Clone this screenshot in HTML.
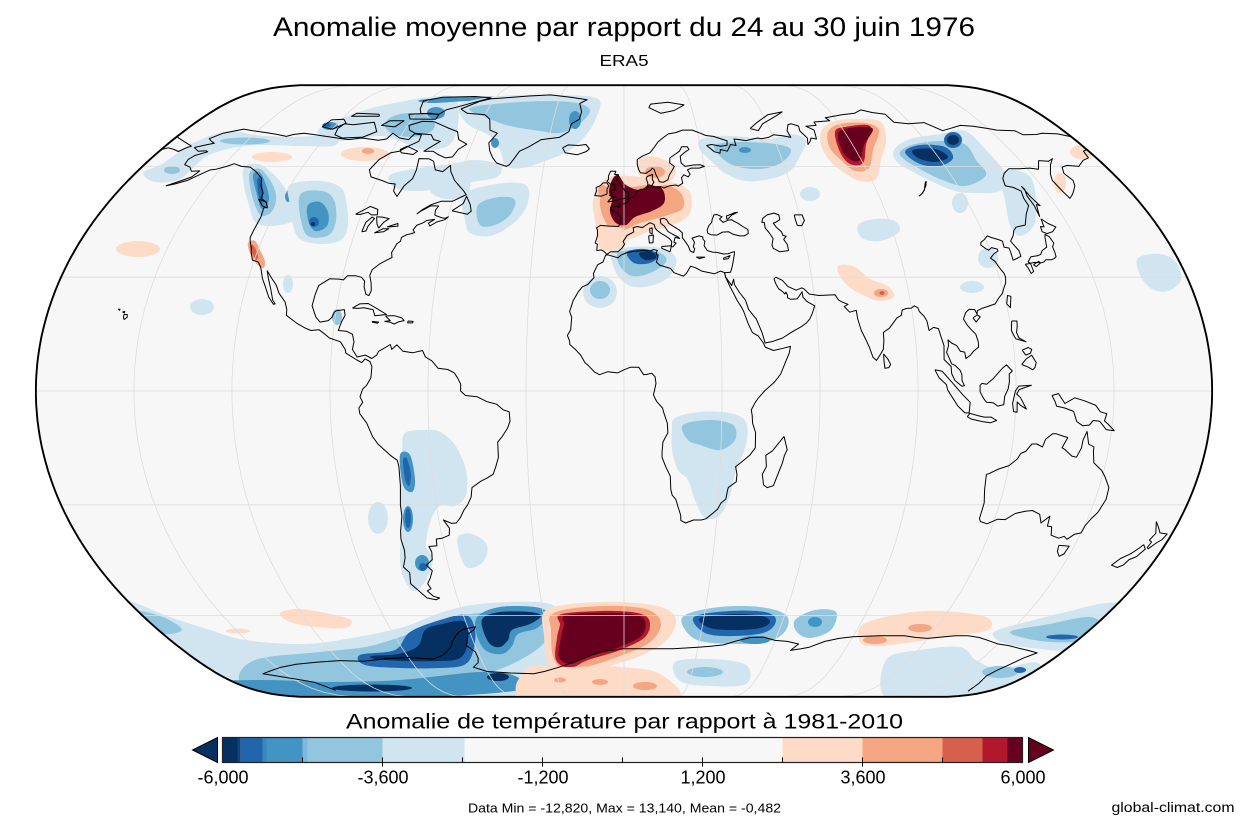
<!DOCTYPE html>
<html><head><meta charset="utf-8"><style>
html,body{margin:0;padding:0;background:#fff;}
svg{display:block;}
text{font-family:"Liberation Sans",Arial,sans-serif;fill:#000;}
</style></head><body>
<svg id="s" width="1248" height="832" viewBox="0 0 1248 832" xmlns="http://www.w3.org/2000/svg">
<defs><clipPath id="cp"><path id="cpp"/></clipPath></defs>
<rect width="1248" height="832" fill="#fff"/>
<path id="bg" fill="#f7f7f7"/>
<g id="data" clip-path="url(#cp)"></g>
<g id="grid" clip-path="url(#cp)" fill="none" stroke="#dddddd" stroke-width="0.8"></g>
<g id="coast" clip-path="url(#cp)" fill="none" stroke="#000" stroke-width="1" stroke-linejoin="round"></g>
<path id="outline" fill="none" stroke="#000" stroke-width="1.9"/>

<text x="624" y="36" font-size="27" text-anchor="middle" textLength="702" lengthAdjust="spacingAndGlyphs">Anomalie moyenne par rapport du 24 au 30 juin 1976</text>
<text x="624" y="66" font-size="16" text-anchor="middle" textLength="49" lengthAdjust="spacingAndGlyphs">ERA5</text>
<text x="624.5" y="728.5" font-size="21" text-anchor="middle" textLength="557" lengthAdjust="spacingAndGlyphs">Anomalie de température par rapport à 1981-2010</text>

<g id="cbar">
<rect x="222.5" y="737.5" width="15" height="25" fill="#053061"/>
<rect x="237.5" y="737.5" width="3.3" height="25" fill="#10437c"/>
<rect x="240.8" y="737.5" width="21.7" height="25" fill="#2166ac"/>
<rect x="262.5" y="737.5" width="4" height="25" fill="#3a87bd"/>
<rect x="266.5" y="737.5" width="36" height="25" fill="#4393c3"/>
<rect x="302.5" y="737.5" width="5" height="25" fill="#7fb8d9"/>
<rect x="307.5" y="737.5" width="75" height="25" fill="#92c5de"/>
<rect x="382.5" y="737.5" width="82" height="25" fill="#d1e5f0"/>
<rect x="464.5" y="737.5" width="318" height="25" fill="#f7f7f7"/>
<rect x="782.5" y="737.5" width="80" height="25" fill="#fddbc7"/>
<rect x="862.5" y="737.5" width="80" height="25" fill="#f4a582"/>
<rect x="942.5" y="737.5" width="40" height="25" fill="#d6604d"/>
<rect x="982.5" y="737.5" width="25" height="25" fill="#b2182b"/>
<rect x="1007.5" y="737.5" width="15" height="25" fill="#67001f"/>
<rect x="222.5" y="737.5" width="800" height="25" fill="none" stroke="#222" stroke-width="1.2"/>
<polygon points="217.5,737.5 217.5,762.5 192.5,750" fill="#053061" stroke="#000" stroke-width="1"/>
<polygon points="1028.5,737.5 1028.5,762.5 1053.5,750" fill="#67001f" stroke="#000" stroke-width="1"/>
<g stroke="#000" stroke-width="1">
<line x1="302.5" y1="757.5" x2="302.5" y2="762.5"/>
<line x1="382.5" y1="757.5" x2="382.5" y2="766.5"/>
<line x1="462.5" y1="757.5" x2="462.5" y2="762.5"/>
<line x1="542.5" y1="757.5" x2="542.5" y2="766.5"/>
<line x1="622.5" y1="757.5" x2="622.5" y2="762.5"/>
<line x1="702.5" y1="757.5" x2="702.5" y2="766.5"/>
<line x1="782.5" y1="757.5" x2="782.5" y2="762.5"/>
<line x1="862.5" y1="757.5" x2="862.5" y2="766.5"/>
<line x1="942.5" y1="757.5" x2="942.5" y2="762.5"/>
</g>
<g font-size="18" text-anchor="middle">
<text x="223" y="783.5">-6,000</text>
<text x="383" y="783.5">-3,600</text>
<text x="543" y="783.5">-1,200</text>
<text x="703" y="783.5">1,200</text>
<text x="863" y="783.5">3,600</text>
<text x="1023" y="783.5">6,000</text>
</g>
</g>
<text x="624.5" y="812.5" font-size="12.5" text-anchor="middle" textLength="313" lengthAdjust="spacingAndGlyphs">Data Min = -12,820, Max = 13,140, Mean = -0,482</text>
<text x="1173" y="812" font-size="13.5" text-anchor="middle" textLength="123" lengthAdjust="spacingAndGlyphs">global-climat.com</text>
</svg>
<script>
(function(){
var NS='http://www.w3.org/2000/svg';
var CX=624,CY=391,S=215;
function pr(lon,lat){var p=lat*Math.PI/180,l=lon*Math.PI/180;var p2=p*p,p4=p2*p2,p6=p4*p2,p8=p4*p4,p10=p8*p2,p12=p6*p6;
var x=l*(0.8707-0.131979*p2-0.013791*p4+0.003971*p10-0.001529*p12);
var y=p*(1.007226+0.015085*p2-0.044475*p6+0.028874*p8-0.005916*p10);
return [CX+S*x,CY-S*y];}
function f(v){return v.toFixed(1);}
function line(arr){var d='';for(var i=0;i<arr.length;i+=2){var p=pr(arr[i],arr[i+1]);d+=(i?'L':'M')+f(p[0])+' '+f(p[1]);}return d;}
function el(tag,attrs,parent){var e=document.createElementNS(NS,tag);for(var k in attrs)e.setAttribute(k,attrs[k]);parent.appendChild(e);return e;}
// outline
var pts=[];var la;
pts.push(pr(-180,90));
for(la=90;la>=-90;la-=1)pts.push(pr(180,la));
for(la=-90;la<=90;la+=1)pts.push(pr(-180,la));
var od='M'+pts.map(function(p){return f(p[0])+' '+f(p[1]);}).join('L')+'Z';
document.getElementById('cpp').setAttribute('d',od);
document.getElementById('bg').setAttribute('d',od);
document.getElementById('outline').setAttribute('d',od);
// grid
var g=document.getElementById('grid');
[-60,-30,0,30,60].forEach(function(lt){el('path',{d:line([-180,lt,180,lt])},g);});
for(var lo=-150;lo<=150;lo+=30){var a=[];for(la=-90;la<=90;la+=2){a.push(lo,la);}el('path',{d:line(a)},g);}
// data
var D=document.getElementById('data');
function sm(a){var n=a.length/2;function P(i){i=((i%n)+n)%n;return [a[i*2],a[i*2+1]];}
var d='M'+P(0).join(' ');for(var i=0;i<n;i++){var p0=P(i-1),p1=P(i),p2=P(i+1),p3=P(i+2);
var c1=[p1[0]+(p2[0]-p0[0])/6,p1[1]+(p2[1]-p0[1])/6],c2=[p2[0]-(p3[0]-p1[0])/6,p2[1]-(p3[1]-p1[1])/6];
d+='C'+f(c1[0])+' '+f(c1[1])+' '+f(c2[0])+' '+f(c2[1])+' '+p2[0]+' '+p2[1];}return d+'Z';}
function P(c,a){el('path',{d:sm(a),fill:c},D);}
function E(c,x,y,rx,ry){el('ellipse',{cx:x,cy:y,rx:rx,ry:ry,fill:c},D);}
var b1='#d1e5f0',b2='#92c5de',b3='#4393c3',b4='#2166ac',b5='#053061',r1='#fddbc7',r2='#f4a582',r3='#d6604d',r4='#b2182b',r5='#67001f';
// North America
P(b1,[143,173,160,165,175,155,185,147,200,140,215,134,235,131,255,135,290,137,325,136,338,140,332,146,300,146,260,145,232,148,207,156,193,168,178,180,155,182]);
E(b2,245,141,25,3.5);E(b2,172,170,8,4);
E(r1,272,157,20,5);E(r1,365,154,24,7);E(r2,368,151,6,3);
P(b1,[318,130,345,117,372,108,400,102,430,97,455,98,458,125,448,146,420,149,400,141,380,136,355,139,330,141]);
E(b2,410,125,25,12);E(b3,330,126,8,4);E(b4,327,125,4,2);E(b3,436,113,9,6);
P(b3,[420,100,460,97,525,97,522,100,470,101,430,103]);
P(b1,[460,104,500,96,560,95,598,99,596,118,586,135,570,150,548,160,522,168,506,166,500,150,490,136,470,126,460,114]);
P(b2,[470,108,520,102,570,102,590,110,578,125,560,133,540,131,510,126,490,119]);
E(b3,575,120,6,9);E(b3,495,143,4,5);
P(b1,[390,175,420,168,450,164,475,160,500,165,497,177,472,182,445,187,420,191,395,188]);
P(b1,[430,170,460,168,470,180,466,195,446,199,430,191]);
P(b1,[244,167,258,164,271,172,283,185,291,200,300,210,291,222,270,226,255,222,249,205,244,186]);
P(b2,[250,172,260,169,270,180,276,195,273,210,262,216,255,205,250,186]);
P(b3,[253,175,260,173,266,185,269,200,262,209,257,195]);
P(b4,[257,180,261,179,263,192,262,204,259,198]);
E(b3,288,196,3,6);
P(b1,[290,185,320,181,340,187,346,200,348,225,341,240,320,244,300,239,293,225,290,205]);
P(b2,[300,195,322,191,334,200,336,220,329,235,310,237,302,225]);
P(b3,[308,205,320,202,328,212,327,226,315,231,308,220]);
E(b4,314,222,5,5);E(b5,313,224,2,2);
P(r2,[248,243,255,241,261,252,265,262,263,268,256,263,250,253]);
P(r3,[250,246,254,246,258,256,256,260,252,253]);
E(r1,138,249,22,8);E(b1,202,307,12,8);E(b1,288,284,5,9);E(b2,337,317,5,8);
P(b1,[463,195,490,185,520,183,529,191,525,210,510,226,490,236,470,233,465,220]);
P(b2,[478,205,500,197,515,200,510,215,495,225,480,225]);
// Europe
P(r1,[593,200,600,185,612,176,640,177,665,181,681,185,691,195,689,215,670,226,650,231,630,239,610,241,598,231,594,215]);
P(r2,[600,200,612,183,630,187,660,184,680,192,683,208,665,216,640,223,620,231,606,223]);
P(r5,[612,180,618,175,626,185,640,190,652,183,663,190,664,203,652,211,635,217,626,225,616,223,610,212,612,200,609,192]);
E(r2,603,191,5,6);
P(r1,[637,163,650,156,668,162,676,172,668,183,655,186,642,179]);E(r2,655,172,10,6);
P(r1,[597,228,610,226,625,230,625,245,612,251,600,248]);
P(b1,[612,252,630,247,660,248,676,258,670,276,650,286,630,286,618,276,612,262]);
P(b2,[618,253,635,250,660,253,666,262,650,273,632,276,620,266]);
P(b4,[627,252,645,249,659,255,650,263,634,263]);
P(b5,[639,253,652,252,656,258,645,260]);
E(b1,600,292,17,16);E(b2,600,290,10,9);
P(b1,[700,140,720,136,745,137,770,139,790,134,806,140,800,156,790,171,770,179,745,181,725,173,710,160,700,150]);
P(b2,[715,145,740,142,775,144,791,150,781,163,760,169,735,166,720,156]);
E(b3,745,150,6,3);E(b1,810,194,10,7);
// Siberia
P(r1,[822,130,835,121,860,119,881,122,886,140,881,160,876,179,860,181,845,173,830,161,821,145]);
P(r2,[828,132,840,124,865,123,879,130,873,150,869,168,855,171,842,161,830,148]);
P(r4,[835,132,845,127,870,126,866,145,863,163,850,164,840,152]);
P(r5,[840,131,872,128,864,145,860,160,851,160,842,150]);
P(b1,[894,150,910,139,940,134,965,131,986,150,1006,175,1000,191,975,193,955,191,935,183,915,173,897,162]);
P(b2,[900,152,915,144,945,141,966,145,976,160,986,175,965,186,940,179,920,169,905,160]);
P(b4,[905,152,920,145,945,147,953,158,940,166,920,164]);
P(b5,[913,150,935,149,948,157,935,162,918,158]);
E(b4,953,140,9,8);E(b5,953,140,6,5);
P(b1,[1000,175,1015,170,1031,178,1036,200,1034,225,1020,236,1010,225,1005,200]);
E(b1,960,203,8,10);
E(r1,1060,183,6,10);E(r1,1082,152,12,7);
P(b1,[1138,258,1160,254,1176,262,1181,280,1168,291,1152,289,1140,275]);
P(b1,[858,225,875,219,895,221,899,232,880,241,862,238]);
P(r1,[840,265,855,267,870,279,888,286,894,297,880,301,865,296,848,286,838,272]);
E(r2,881,293,7,4);E(r3,882,293,2.5,2);
E(b1,972,287,12,6);E(b1,988,258,10,10);
// South America / Africa
P(b1,[405,433,425,430,440,432,455,445,466,470,466,495,455,506,440,506,431,520,426,545,433,560,426,580,415,591,405,581,400,560,402,520,400,480,402,450]);
P(b3,[400,455,410,455,415,480,412,492,403,485]);
P(b4,[403,460,407,459,411,475,409,486,405,479]);
E(b3,408,519,5,13);E(b4,408,518,3,10);
E(b3,422,563,7,8);E(b4,423,567,4,4);
E(b1,378,518,10,16);
P(b1,[458,537,472,534,487,545,483,562,468,568,460,555]);
P(b1,[675,418,700,412,730,413,746,422,746,445,736,470,730,495,720,515,705,518,695,500,688,480,678,470,672,450,672,430]);
P(b2,[683,425,710,420,733,425,735,440,720,450,700,445,688,440]);
P(r1,[280,613,300,609,330,614,351,620,345,628,315,627,290,622]);E(r1,238,631,12,2.5);E(r1,245,666,8,2);
// Antarctic zone
P(b1,[120,600,170,617,210,630,245,640,300,644,340,640,400,628,440,613,480,604,546,603,560,620,556,660,540,680,500,700,400,705,300,705,250,700,200,690,150,665,110,630]);
P(b2,[140,612,165,618,182,630,160,633]);
P(b2,[255,660,320,652,370,646,420,630,450,619,470,614,520,611,546,615,546,640,520,660,480,676,420,692,340,695,280,693,240,682]);
P(b4,[410,632,440,620,466,615,475,630,473,652,464,665,440,668,400,668,365,665,360,655,395,650]);
P(b5,[425,630,442,624,463,621,468,632,466,650,458,659,440,661,405,661,375,659,372,656,398,654,418,646]);
P(b3,[478,616,500,607,535,607,548,614,537,628,518,634,512,646,502,654,485,650,476,632]);
P(b5,[483,618,500,612,530,612,541,616,530,624,512,630,508,640,500,647,490,644,483,630]);
P(b3,[180,684,260,680,330,682,400,680,480,672,515,676,520,690,400,698,250,698]);
E(b5,498,677,11,4);E(b5,372,688,40,3.5);
P(r1,[544,612,570,604,620,602,661,607,676,620,666,641,640,656,610,666,580,676,560,676,547,660,544,635]);
P(r2,[551,615,575,608,620,606,651,611,661,625,649,643,620,656,590,666,565,671,553,656,551,630]);
P(r4,[562,614,617,611,647,617,646,636,620,650,588,660,570,668,556,660,557,638,560,625]);
P(r5,[567,615,617,613,643,618,642,635,617,648,587,657,570,664,559,657,561,638,564,625]);
P(r1,[528,668,570,667,620,667,660,674,672,700,528,700]);E(r2,645,686,12,4);E(r2,600,682,8,3);E(r2,560,680,6,2.5);
P(b2,[685,615,720,607,760,607,786,615,786,630,770,641,740,644,700,641,684,628]);
P(b4,[694,617,730,611,765,612,776,620,766,632,735,636,705,633]);
P(b5,[700,618,735,614,762,616,770,622,760,628,735,630,710,628]);
E(b3,755,640,15,4);
P(b2,[795,620,815,610,836,612,831,630,810,638,797,632]);E(b3,815,622,7,5);
P(b1,[675,662,710,659,746,665,746,684,710,686,680,681]);E(b2,705,672,18,5);
P(r1,[862,625,900,614,940,611,986,617,988,630,950,636,920,641,880,646,861,643]);
E(r2,875,640,12,4);E(r2,920,628,12,4);
P(b1,[994,632,1030,621,1070,611,1106,603,1125,608,1112,641,1080,651,1040,649,1004,643]);
P(b2,[1010,632,1050,624,1090,617,1101,628,1080,641,1040,641]);
E(b4,1062,637,16,2.5);
P(b1,[886,660,920,650,960,647,976,660,1000,669,1038,663,1045,692,960,700,888,700]);
E(b2,1000,672,18,6);E(b4,1020,670,6,3);
// coastlines
var C=document.getElementById('coast');
var COAST=[
[-168,65.6,-164,66.5,-162,66.9,-164,67.5,-166,68.3,-163,70,-156.5,71.3,-152,70.8,-145,70.1,-141,69.7,-136,69,-134,69.6,-130,70,-125,69.5,-120,69,-115,68.5,-110,68,-105,68.5,-98,67.8,-95,68.2,-94,70,-90,68.5,-86,68,-85,69.8,-82,69.5,-81.5,67.5,-84,66.3,-87,64.5,-90,64,-93,62,-94.5,59,-92.5,57,-88,56,-85,55.2,-82.5,55,-82,53,-80,51.5,-79,54.5,-77,56.5,-77,59,-78,62.3,-74,62.2,-72,61.5,-70,59,-67,58.5,-65,60.3,-64,58.5,-61.5,56,-60,55,-57,53,-55.8,52,-57,51.5,-60,50.2,-64,50.2,-67,49.3,-69.5,48,-71,46.8,-70,47.5,-67,49,-64.3,48.9,-65,47.8,-64.8,46.5,-64,46.2,-62,45.7,-61,45.6,-60,46,-61,45.2,-63.5,44.6,-65.5,43.5,-66.2,44.3,-64.5,45.3,-67,45,-68,44.4,-70,43.7,-70.8,42.5,-70,41.8,-71,41.5,-72.5,41.2,-74,40.5,-74,39.5,-75,38.8,-75.5,37.5,-76,36.5,-75.5,35.2,-77,34.5,-79,33.5,-81,32,-81.4,30.5,-80.5,28.5,-80,26.5,-80.5,25.2,-81.5,25.5,-82.5,27.5,-82.7,29,-84,30,-86,30.4,-88.5,30.4,-89.5,29.3,-91,29.5,-94,29.6,-97,27.8,-97.5,25.5,-97.8,22.5,-96,19.5,-94.5,18.2,-92,18.6,-91,19.5,-90.5,20.8,-90,21.2,-87.5,21.5,-87,20,-87.8,18.3,-88.5,16,-86,15.8,-84,15,-83.3,13,-83.6,11,-82,9,-79.5,9.5,-77.5,8.6,-76,9.5,-75.5,10.5,-74.5,11,-72,12.3,-71.5,11,-70,12.2,-68,10.5,-65,10.1,-62,10.7,-61,9,-59,8,-57,6,-54,5.7,-52,4.8,-51,3.5,-50,1.8,-50,0,-48.5,-1.2,-45,-1.5,-42,-2.8,-39,-3.5,-37,-5,-35.2,-5.5,-35,-8,-35.8,-9.8,-37.5,-12,-39,-13.5,-39,-17.5,-40,-20,-41,-22,-43,-23,-45,-23.8,-48,-25.5,-48.6,-28,-50,-30,-51.5,-31.5,-53,-33.5,-54.5,-34.8,-56,-34.9,-58.5,-34,-57,-36.2,-57.5,-38,-60,-38.8,-62,-39,-62.3,-40.8,-65,-41,-64.5,-42.5,-65,-44.5,-67.5,-46,-66,-47.5,-67.5,-49.5,-69,-51,-68.4,-52.4,-70,-53,-68.5,-54.5,-66.5,-55,-68,-55.5,-71,-55,-73,-53,-75,-51,-74,-48,-75.5,-46.5,-74,-44,-73.5,-42,-73.7,-39,-73.2,-37,-71.7,-33,-71.5,-30,-70.5,-25,-70.2,-20,-70.5,-18.3,-72.5,-17,-76,-14,-77.5,-12,-79,-8.5,-81,-6,-81.2,-4.5,-80,-3,-80.8,-1.5,-80,0.5,-78.8,1.5,-77.5,3.5,-77.3,6.5,-78,7.8,-79.5,8.5,-80.5,7.5,-82,8.2,-85.5,10,-85.8,11,-87.5,13,-91,14,-92.5,15,-94.5,16.2,-97,16,-99,16.7,-101.5,17.8,-105.3,20,-105.5,21.5,-106.5,23.5,-109,25.8,-110.5,27.9,-112.5,29.7,-114.7,31.7,-113.5,29.5,-112,27,-110.5,24,-109.5,23,-110,22.9,-112,24.8,-114.2,28,-115.5,29.7,-116.6,31.7,-117.2,32.7,-118.5,34,-120.6,34.5,-121.9,36.5,-122.5,37.8,-123.8,39.5,-124.3,40.5,-124.2,42.5,-124,46,-124.7,48.4,-123.5,48.5,-125,50,-127.5,51,-128,52.5,-130.5,54.5,-132,56.5,-136,58.5,-139.5,59.8,-143,60,-146.5,60.8,-148.5,60,-151.5,59.2,-153.5,59,-156,57.5,-158.5,56,-162,55,-164.5,54.5,-161,55.8,-158,57,-157,58.7,-160,58.6,-162,59.8,-164.8,60.5,-165.5,62,-164.5,63.2,-161,64.3,-162,64.6,-165,64.5,-168,65.6],
[32.5,30,32.3,31.2,34.2,31.3,34.9,32.8,35.5,34.5,36,36,36.2,36.7,35.5,36.6,34,36.2,32.5,36.1,30.5,36.5,29,36.6,27.3,37,26.4,38.3,26.8,39.5,26.2,40,26.2,40.6,25,40.9,23.8,40.6,22.6,40.3,23.3,39.2,22.8,38,23.2,37.5,22.8,36.5,21.7,36.9,21.1,38.3,20.2,39.5,19.4,40.4,19.5,41.7,18.5,42.5,16.5,43.5,15.2,44.2,14.5,45.2,13.7,45.6,12.3,45.4,12.5,44.2,13.6,43.5,14.7,42.1,16.1,41.4,18,40.6,18.5,40.2,17,40.5,16.5,39.2,17.2,39,16.1,38,15.6,38,15.8,39.5,15,40.2,14,40.8,12.5,41.5,11,42.4,10.5,43,10.2,43.9,8.8,44.4,7.5,43.8,6.2,43.1,4.5,43.4,3.1,43.1,3.2,41.9,1,41,0.2,40,-0.3,39.4,0.2,38.7,-0.7,37.6,-2,36.7,-4.4,36.7,-5.6,36,-6.5,36.8,-7.5,37.2,-8.9,37,-8.8,38.7,-9.5,39,-8.8,41,-8.9,42.5,-9.3,43,-8,43.7,-5,43.5,-1.8,43.4,-1.3,44.5,-1.2,46,-2.2,47,-4.5,47.9,-4.7,48.6,-3,48.8,-1.6,48.6,-1.9,49.7,-1.2,49.4,0.2,49.5,1.5,50.1,1.6,50.9,3,51.2,4,51.9,4.7,53,6,53.5,8.5,53.6,8.6,55.3,8.1,56.5,8.5,57.1,10.5,57.7,10.3,56.3,10.8,55.5,10,54.6,11,54,13,54.3,14.3,53.9,16.5,54.5,18.6,54.7,19.5,54.4,21.2,55.2,21,56.8,22,57.6,23.5,57,24.3,57.8,23.5,59,25,59.5,28,59.5,30,60,28.5,60.5,26,60.4,22.8,60,21.5,61,21.5,63,23.5,64.2,25.3,65,24.8,65.8,22.5,65.8,21.5,64.5,19.5,63.5,17.5,62.5,17.2,61,18.8,60,18,59,16.6,57.5,16,56.2,14.3,55.5,12.8,55.6,12.5,56.3,11.7,57.7,11.2,59.1,10.5,59.5,10,59,8,58,6,58.2,5.5,59,5,60.5,5,62,7,63,10,64,12,65.8,13.5,67.3,15.5,68.5,18,69.8,21,70.2,24,71,28,71,31,70,33,69.3,36,69,41,67.6,40.5,66.3,38,66,34.5,66.5,32.5,66.2,35,64.3,37,63.9,37.5,65,40,64.5,42,66.5,44,66.2,44,68.2,46,68,48.5,67.7,53.5,68.5,55,68.3,58,68.7,60.5,69.5,64,69.2,67,68.7,66.8,70.8,68.5,72.8,70,73,72.5,72.3,72,70.7,73.5,68.5,72.5,66.5,74,67.5,75,68.5,77,68.2,78,71,75.5,72.2,80,72.5,80,73.6,87,74,86,75,94,76,100,76.5,104.2,77.7,108,76.8,113,76.2,113.5,73.5,119,73,126,73.4,128.5,72,130.5,70.8,135,71.6,140,72.5,145,72.2,150,71.5,153,71,160,70.8,161.5,69.5,167,69.6,170,70,176,69.8,180,68.9,180,65,178,64.5,177,62.5,174,61.8,170,60,166,60.3,163.5,59.8,162,58,163,56,162,54.5,160,53,158.5,52,156.7,51,156,53,155.5,56,156.8,57.8,160,60.5,163,62.3,160.5,61.5,157,61.7,154,59.2,151,59.5,147,59.3,143,59.3,140,58,138,56.5,137,54.5,139.5,54,141.3,53,140.5,51,140.5,49,138,46.8,135.5,43.8,132,43.2,130.7,42.3,129.7,41,128,39.5,129.4,37,129.3,35.5,127,34.7,126.3,34.5,126.5,36.5,126.5,37.7,125,37.9,125.3,39.5,124.2,39.9,122,40.5,121,40.9,119.5,39.9,118,39.2,117.6,38.5,118.8,37.5,119.5,37.1,120.8,37.8,122.5,37.4,122.5,36.9,120.7,36.1,119.2,35,120.3,34.2,121,32.5,121.9,31,122,30,121.5,28.5,120.5,27.2,119.5,25.7,118,24.5,116.5,23,114,22.3,112,21.8,110.5,21.2,110.2,20.3,109.7,21.5,108,21.6,106.7,20.7,105.7,19,106.5,17.5,107.5,16.3,108.8,15,109.3,13,109.2,11.6,107.5,10.5,106.5,9.5,105,8.6,104.8,10.3,103.5,10.5,102.5,12,101,12.7,100,13.5,100,12,99.2,10.2,100,8.5,100.5,7.2,101.5,6.8,103,5.5,103.5,4.3,103.5,2.8,104.2,1.4,103.4,1.3,101.3,2.8,100.4,4.6,100.3,6.5,98.3,8.3,98.6,12,97.8,15,97.5,16.5,96,16.8,94.5,16,94.2,18.5,93.5,19.8,92.3,21,92,22,91,22.5,90,21.9,88.5,21.8,87,21.4,86.5,20,85,19.3,82.3,16.6,80.3,15.5,80.2,13.3,79.8,11,79.3,10.3,78.2,8.9,77.5,8.1,76.5,8.9,75.6,11.5,74.7,13.5,73.5,16,72.8,19,72.6,21.3,70.5,20.8,69,22.3,70.3,22.9,68.5,23.5,67.5,24,66.6,25.4,64,25.3,61.5,25.2,58.5,25.6,57,27,56.3,27.2,54.5,26.6,52,27.6,50.5,29.2,48.5,30,47.9,29.5,48.3,28.3,49,27,50.2,26.2,50.8,25.6,51.2,26.1,51.6,25.3,51.5,24.6,52.5,24.2,54.5,24.3,56,25.8,56.3,26.2,56.4,24.8,57.5,23.6,59.8,22.5,58.8,20.5,57.8,19,56.7,18,55,17,52.2,15.7,49,14,45.5,13,43.5,12.7,42.7,15.5,41.2,19,39,21.5,38.2,24,36.5,26,35.1,28.1,35,29.5,34.3,28,34.2,27.8,32.6,29.9,32.5,30],
[32.5,30,33.5,27.8,34.5,26,35.6,23.9,36.9,22,37.4,21,38.5,18,39.7,15.5,41.5,14.5,43,12.7,43.5,11.6,46,10.7,49,11.3,51.3,11.8,50.8,10,49.5,7.5,48,4.5,46,2.3,43,0,41,-2,40.2,-3,39,-5,39.3,-6.5,39.5,-8.5,40.5,-11,40.6,-15,39,-17,36.5,-18.8,34.8,-20,35.4,-22,35.3,-24,33,-25.4,32.8,-26,32.4,-28.5,31,-29.5,30,-31.2,28.5,-32.3,26.5,-33.7,25,-34,22.5,-34,20,-34.8,18.4,-34.1,18.3,-32.8,17.5,-31,16.5,-28.6,15.3,-27.5,14.8,-26,14.5,-22.5,13,-20,11.8,-17.5,11.8,-16,12,-13.5,13.5,-11,13.3,-8.5,12.3,-6,11.8,-4.5,10,-2.8,9,-1,9.3,0,9.8,2,9.5,3.8,8.5,4.7,7,4.4,6,4.3,4.5,6.3,2,6.3,0,5.6,-2,4.8,-5,5.1,-7.5,4.3,-9,5,-11,6.8,-12,7.5,-13.3,9.5,-15,11,-16.7,12.3,-16.8,13.2,-17.5,14.7,-16.5,16.2,-16.3,19.5,-17,21,-16,23.8,-14.5,26.1,-13.2,27.5,-11.5,28.1,-9.6,29.9,-9.8,31,-8.5,33.3,-6.8,34,-6,35.8,-5.3,35.9,-2,35.1,-1,35.8,1,36.5,3,36.8,6,37,8.5,36.9,9.7,37.3,11,37,10.5,36.5,11,35.2,10.5,34,11.5,33.2,15,32.3,16,31.2,19,30.3,20,31,21.5,32.9,23,32.5,25,31.6,29,30.9,31,31.6,32.3,31.2,32.5,30],
[-141,-85,-143,-81.5,-150,-80,-160,-78.3,-155,-77.3,-148,-76,-140,-75,-130,-74.3,-120,-73.8,-110,-74,-100,-73.2,-90,-72.8,-80,-73.3,-75,-72,-70,-69.5,-68,-67.5,-66,-66,-64,-64.8,-62,-64,-57,-63.3,-58,-64.2,-61,-65.5,-62,-67,-63.5,-69,-61,-71,-61,-73,-62,-74.5,-65,-76,-60,-77.5,-50,-78,-40,-78.3,-35,-77.5,-28,-76,-20,-74,-15,-72.5,-10,-71,0,-70,10,-70,20,-70,30,-69.5,35,-69.2,40,-68.8,45,-67.5,50,-66.5,55,-66.4,60,-67.4,65,-67.7,70,-68.5,68,-70.5,72,-70,75,-69.5,80,-67.7,85,-66.8,90,-66.3,100,-66,110,-66,115,-66.5,120,-66.8,130,-66,135,-66,140,-66.5,145,-67.5,150,-68.5,155,-69,160,-69.8,165,-70.5,170,-71.3,167,-73,165,-75,163,-77,162,-79,165,-82,170,-85.5],
[-180,68.9,-175,67.5,-171,66.4,-169.7,66,-171,65.5,-172.5,64.4,-175,65,-178,65.5,-180,65],
[-72,78,-68,76.5,-60,76,-57,74.5,-55,71,-51.5,70,-53.5,67,-52,64.5,-50,62.5,-48,61,-44,60,-43,60.5,-42,62,-40.5,64.5,-37.5,65.7,-33,68,-26,68.7,-22.5,70.5,-22,73,-19,74.5,-18.5,77,-20,80,-17,81.5,-25,82.5,-35,83.5,-45,83,-55,82.3,-62,81.8,-66,80.8,-72,78],
[-24,65.5,-22,66.4,-18,66.2,-15,66.5,-13.5,65.2,-14.5,64.4,-18,63.4,-21,63.8,-22.7,64,-24,65.5],
[11,78.5,16,76.5,22,77.5,27,79.5,20,80.5,12,79.8,11,78.5],
[52,71.5,56,73.5,62,76,69,77,65,75.5,58,73,55,70.8,52,71.5],
[-80,73.7,-72,71.5,-68,70.5,-66,68,-62,66.6,-64.5,65,-65.5,62.8,-68,62.5,-71.5,63.5,-74,64.5,-77.5,64.5,-73,67.5,-76,68,-78,69.5,-85,70,-88,71,-89.5,72.5,-85,73.8,-80,73.7],
[-118,71.5,-117,73,-113,72.7,-105,73.5,-101,70.5,-105,68.8,-113,68.5,-117,69.5,-118,71.5],
[-125,72,-124,74.3,-119,74.5,-116.5,73.2,-120,71.3,-125,72],
[-80,76.2,-88,76.4,-90,78,-92,81,-85,82.5,-70,82.8,-62,82.2,-68,80.5,-74,78.8,-78,77.8,-80,76.2],
[-80,74.5,-91,74.6,-93,76.2,-84,76.5,-80,76,-80,74.5],
[-95,72,-101,72.5,-99,74,-93,74,-95,72],
[-105,75.5,-117,75.5,-116,76.5,-106,76.2,-105,75.5],
[-86,64,-81,63.5,-80,64.5,-85,66,-87,65,-86,64],
[-59.3,47.6,-56,49.6,-55.5,51.6,-53.5,49.3,-52.6,47.5,-53.7,46.7,-55.5,47,-59.3,47.6],
[-128.3,50.8,-125,50,-123.4,48.4,-125.5,48.9,-128.3,50.8],
[-92,46.7,-89.5,48,-88,48.8,-85,48,-84.5,46.5,-86.5,46.5,-88,47.2,-90.5,46.6,-92,46.7],
[-87.8,42,-87.5,44.5,-86,45.9,-85,45.5,-86.3,43.5,-86.5,42.2,-87.8,42],
[-84.5,46,-82.5,45.9,-80,45.5,-81.5,44.5,-82.5,43,-83.5,44,-84.5,46],
[-83.5,41.7,-81,42.8,-79,42.8,-80.5,42,-83.5,41.7],
[-79.8,43.3,-76.5,44.2,-76.2,43.5,-79,43.3,-79.8,43.3],
[-85,21.9,-83,23,-80.3,23.1,-77.2,21.7,-74.1,20.2,-77.7,19.9,-78.5,21.5,-81.5,22,-83.3,21.8,-85,21.9],
[-74.4,19.8,-72.8,19.9,-71.6,19.9,-69.2,19.3,-68.4,18.6,-70,18.3,-71.4,17.7,-72.8,18.2,-74.4,18.4,-72.7,18.6,-74.4,19.8],
[-67.2,18.5,-65.6,18.4,-65.7,18,-67.2,18,-67.2,18.5],
[-78.3,18.4,-76.3,18.2,-76.6,17.9,-78.2,18.2,-78.3,18.4],
[-156,20.2,-155,20.2,-154.8,19.5,-155.6,18.9,-156,19.5,-156,20.2],
[-156.7,20.9,-156,21,-156,20.6,-156.7,20.9],
[-158.3,21.6,-157.7,21.6,-157.7,21.3,-158.3,21.6],
[-5.7,50,-3.5,50.3,-1,50.8,1.4,51.2,1.7,52.6,0.3,53,0,53.6,-1.2,54.6,-2,55.8,-2.8,56,-2,57.6,-3.5,57.7,-3,58.6,-5,58.6,-5.7,57.2,-5.6,56.3,-6.2,55.8,-5,55,-3.2,54.9,-3.5,54.3,-3,53.4,-4.6,53.2,-4.2,52.3,-5.2,51.8,-3,51.4,-4.5,51.1,-5.7,50],
[-6,52.2,-6.1,53.5,-5.5,54.5,-6.2,55.3,-7.5,55.3,-8.5,54.5,-10,54,-9.8,53,-10.3,51.8,-8,51.6,-6,52.2],
[12.4,38.1,15.6,38.3,15.1,36.7,12.4,37.6,12.4,38.1],
[8.2,40.9,9.8,41.1,9.6,39.1,8.4,39,8.2,40.9],
[8.6,42.9,9.5,43,9.4,41.4,8.7,41.7,8.6,42.9],
[23.5,35.3,26.3,35.3,24.5,34.9,23.5,35.3],
[32.3,35,34.6,35.7,33.9,34.9,32.4,34.7,32.3,35],
[29,41.2,31,41.1,33,41.9,35,42,36.5,41.3,38.5,40.9,40,40.9,41.5,41.5,41.6,42.6,40,43.4,38.5,44.3,37.5,44.7,36.6,45.2,35.5,45.1,33.6,44.5,32.5,45.4,33.5,46,31.8,46.6,30.8,46.5,30,45.3,29.7,44.5,28.6,43.6,27.9,42.5,28,41.6,29,41.2],
[35,45.3,35.5,45.5,37,46.5,39,47.2,38,47.1,36.5,46.6,35,46.2,35,45.3],
[49,46.5,51.5,47,53,46.5,53,45.2,51.3,44.5,50.5,44.3,51.3,43.2,52.7,42,53,41,54,40.8,53,40,53.9,38.5,53.9,37,51,36.7,49,37.6,48.8,38.5,49.5,40.2,48.5,41.8,47.5,43,47.5,44.5,46.7,44.5,47.3,45.6,49,46.5],
[58.3,46.5,61,46.5,61.3,45,60,43.6,58.5,43.7,58.3,45.2,58.3,46.5],
[104,51.6,106,52.5,108.5,54.5,109.5,55.7,109,55.5,107,53.2,105,52,104,51.6],
[130.9,34,132.5,35.4,135,35.7,136,36,137,37,139,37.9,140,40.5,140.5,41.3,141.5,40.7,142,39,141,38,140.9,36.5,140.7,35.4,139.8,34.9,138.8,34.6,137,34.6,136,34,135.1,33.8,133,33.9,131.5,33.7,130.9,34],
[129.7,33.4,131.5,33.6,131.6,31.5,130.6,31,130.2,32.5,129.7,33.4],
[132.3,33.3,134.5,34.2,134.7,33.7,133,32.8,132.3,33.3],
[140,42,140.4,43.4,141.5,43.3,142,45.4,143.5,44.2,145.5,43.3,143.5,42,141.3,41.5,140,42],
[142,46,142.5,49,142.2,51.6,143,53.5,142.7,54.3,143.2,51.5,144.5,49,143.5,49.3,142.6,47.5,142,46],
[120.1,23,121,25.2,122,25,121,22,120.1,23],
[108.7,19.3,110.2,20.1,111,19.6,109.5,18.2,108.7,19.3],
[79.8,9.8,81,8.5,81.8,7,81.2,6.2,80,6,79.8,8,79.8,9.8],
[95.3,5.6,97.5,5.2,100.4,2.3,103.7,-1,106,-3,105.8,-5.8,104.5,-5.8,102.3,-4,100.9,-2.2,99.1,0.2,98.7,1.7,96.5,3.5,95.3,5.6],
[105.3,-6.8,106,-5.9,108.5,-6.5,110.5,-6.9,112.6,-6.9,114.4,-7.8,112.5,-8.4,110,-8.1,106.5,-7.4,105.3,-6.8],
[109,1.5,109.6,2,111,1.8,113,3.2,114.5,4.6,116,6,117.3,6.9,119,5.3,118,4.5,118,2.4,117.6,0.6,116.5,-1.5,116.3,-3.6,114.5,-4,113,-3.1,111,-3,110.1,-2,109,-0.2,109,1.5],
[119.4,-5.5,119,-3.3,119.8,0,120.8,1.3,124.7,1.5,121,0.4,120.2,-0.8,121.4,-1.8,123.3,-4.8,121.5,-3.8,120.4,-2.9,120.5,-5.6,119.4,-5.5],
[120.6,18.5,122.2,18.5,122,17,121.5,15.5,122,14,124,13,121,13.8,120.6,14.5,120,16,120.6,18.5],
[122,7,123.5,8.5,125.3,9.5,126.5,7.5,126,6.2,125.3,5.6,124,6.3,122,7],
[122.5,10.8,124.5,11.5,125.5,11,125,10,123.5,9.5,122.5,10.8],
[131,-1.2,133,-0.7,135,-3.3,138,-1.8,141,-2.6,144.5,-3.8,146,-5.5,148,-6,147.5,-7.9,149,-9,150.8,-10.5,148.3,-10.2,146,-8,144,-7.8,143,-9,141,-9.2,139,-8.1,137.8,-5.4,135,-4.5,132.5,-4,132,-2.8,131,-1.2],
[113.5,-22,114,-26,115,-29.5,115,-33.6,115.6,-34.4,118,-35,121,-33.8,123.5,-33.9,126,-32.3,129,-31.7,131.2,-31.5,134,-32.5,135.5,-34.8,137.5,-33,138,-35.6,139.5,-35.8,140.5,-38,143.5,-38.8,145,-38.3,146.4,-39.1,148,-37.8,150,-37.4,150.2,-35.5,151.3,-33.5,152.5,-32,153.5,-28.5,153.1,-25.5,150.8,-22.6,149.3,-21,146.3,-19,145.4,-16,145.3,-14.8,143.5,-14,142.5,-10.7,141.6,-12.9,141.5,-15,140.5,-17.5,139,-17.2,136.5,-15.5,135.5,-15,136.8,-12.3,135.5,-12,133,-11.3,132,-11.3,130,-12.8,129.4,-14.8,127.5,-14,126,-14,124.4,-16,123,-16.5,122.2,-18,120,-19.7,117,-20.6,114.3,-21.8,113.5,-22],
[144.7,-40.7,148.3,-40.9,148,-43,146.8,-43.6,145.3,-42.3,144.7,-40.7],
[172.7,-34.4,174.5,-36,175.9,-37.4,178.5,-37.7,177.9,-39.2,176.8,-39.9,175.2,-41.6,174.6,-41.3,174.9,-39.8,173.8,-39.3,174.6,-37.5,172.7,-34.4],
[172.8,-40.5,174.3,-41.7,173,-43.7,171.2,-44.5,170.5,-45.9,169,-46.6,166.5,-46,168,-44.2,170.5,-42.9,172.1,-41.4,172.8,-40.5],
[49.3,-12,50.5,-15.5,49.8,-17,49.3,-19,48,-22.5,47.1,-25,45.2,-25.5,44,-24.8,43.3,-22,44.4,-20,44,-17,46,-15.8,48,-13.5,49.3,-12]
];
COAST.forEach(function(a){el('path',{d:line(a)},C);});
})();
</script>
</body></html>
